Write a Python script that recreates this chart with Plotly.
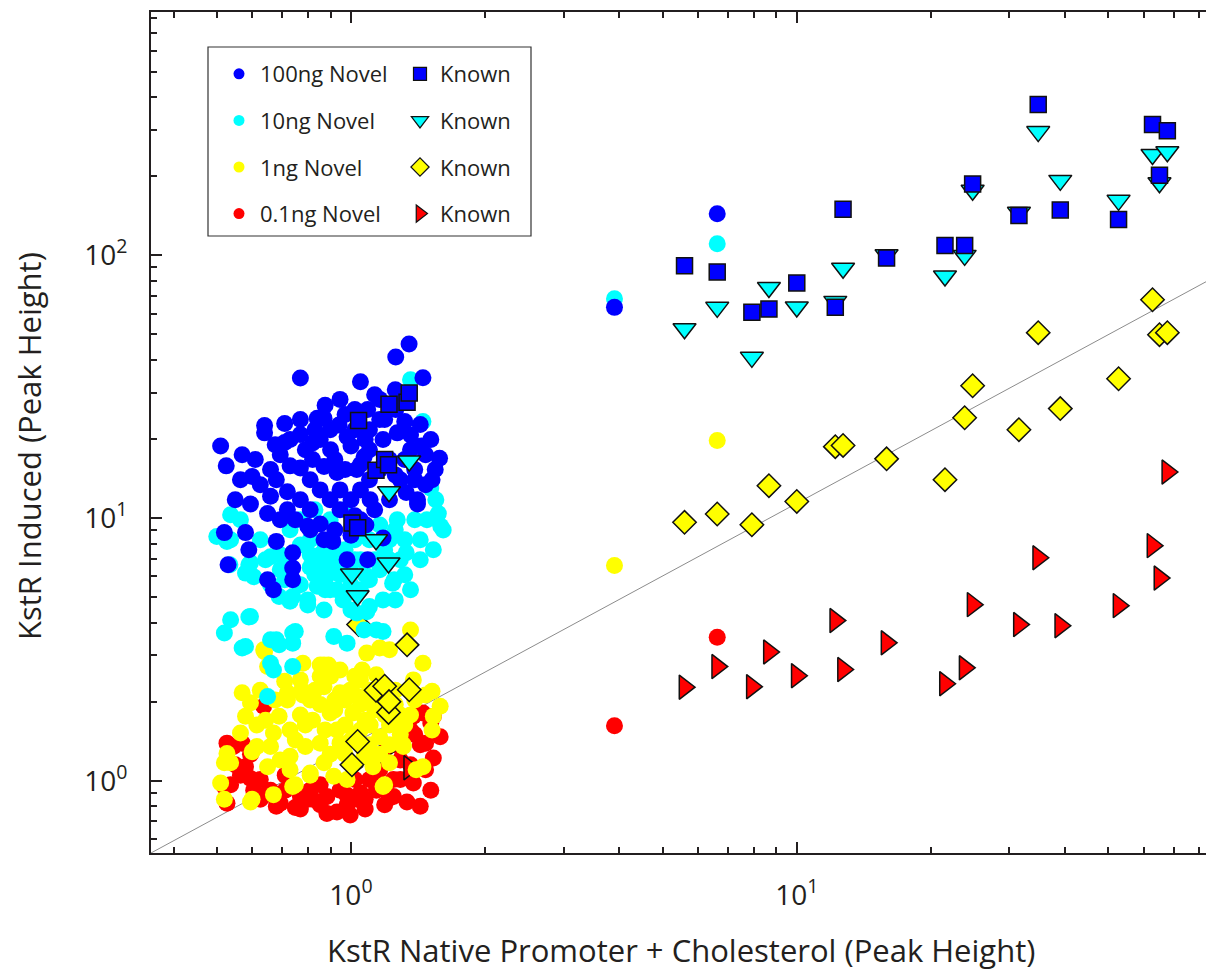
import plotly.graph_objects as go

# ---------------- data ----------------
known_x = [1.005, 1.035, 1.040, 1.138, 1.190, 1.214, 1.217, 1.336, 1.351,
           5.60, 6.63, 7.93, 8.66, 10.0, 12.2, 12.7, 15.9, 21.5, 23.8, 24.8,
           31.5, 34.8, 39.0, 52.7, 62.8, 65.1, 67.8]
known_100ng = [9.58, 9.19, 23.5, 15.2, 16.7, 15.96, 27.1, 27.6, 29.9,
               91.4, 86.5, 60.7, 62.5, 78.5, 63.4, 150, 97.7, 109, 109, 187,
               142, 375, 149, 137, 315, 202, 298]
known_10ng = [6.12, 5.06, None, 8.27, None, 6.74, 12.6, None, 16.5,
              52.6, 63.4, 40.9, 75.5, 63.6, 66.8, 89.4, 100.6, 83.5, 100, 177,
              146, 296, 193, 162, 242, 189, 248]
known_1ng = [1.15, 1.41, 3.93, 2.21, 2.29, 1.82, 2.00, 3.29, 2.22,
             9.63, 10.36, 9.43, 13.28, 11.57, 18.7, 18.9, 16.8, 14.0, 24.1, 31.9,
             21.7, 50.8, 26.1, 33.9, 67.8, 49.9, 50.8]
known_01ng = [1.13, None, None, None, 1.30, None, None, None, 1.12,
              2.27, 2.72, 2.28, 3.09, 2.51, 4.07, 2.65, 3.35, 2.34, 2.69, 4.68,
              3.93, 7.06, 3.89, 4.64, 7.85, 5.91, 14.97]

novel_100ng_x = [0.77, 1.05, 1.26, 1.35, 1.45, 0.51, 0.525, 0.57, 0.61, 0.64, 0.64, 0.71,
                 0.77, 0.71, 0.84, 0.87, 0.94, 0.98, 1.09, 1.16, 1.32, 1.36, 1.44, 1.58,
                 1.52, 0.60, 0.68, 0.77, 0.82, 0.82, 0.90, 1.0, 1.07, 0.87, 0.93, 1.03,
                 1.18, 1.27, 1.33, 1.41, 0.72, 0.66, 0.52, 0.53, 0.58, 0.59, 0.65, 0.67,
                 0.74, 0.74, 0.74, 0.68, 0.80, 0.87, 0.91, 0.98, 1.09, 1.18, 1.41, 0.595,
                 0.65, 0.72, 0.81, 0.853, 0.898, 0.945, 1.0, 1.05, 1.10, 1.16, 1.22, 1.10,
                 1.02, 1.10, 1.19, 1.26, 0.945, 1.02, 1.08, 1.13, 1.22, 1.29, 1.32, 1.39,
                 1.47, 0.77, 0.81, 0.853, 0.75, 0.92, 1.0, 0.92, 0.853, 0.79, 0.73, 0.694,
                 0.97, 1.05, 1.257, 1.32, 1.16, 1.076, 0.97, 0.898, 1.36, 1.47, 1.545,
                 0.875, 0.945, 1.02, 1.13, 0.83, 0.77, 0.73, 0.676, 0.66, 0.626, 0.565,
                 0.55, 0.694, 0.81, 1.05, 1.104, 1.257, 1.39, 1.51, 1.43,
                 3.90, 6.63]
novel_100ng_y = [34.1, 33.0, 41.0, 46.0, 34.2, 18.8, 15.8, 17.4, 16.7, 22.5, 21.1, 22.9,
                 20.8, 19.4, 24.0, 24.0, 22.6, 20.4, 25.9, 28.3, 23.3, 20.7, 18.8, 16.9,
                 14.0, 14.4, 14.0, 15.5, 16.7, 19.3, 18.2, 18.8, 17.1, 15.7, 14.9, 15.3,
                 19.9, 21.1, 12.5, 11.75, 12.6, 12.1, 8.8, 6.64, 8.8, 7.57, 5.82, 5.33,
                 5.82, 6.45, 7.37, 8.15, 9.3, 8.26, 8.15, 6.94, 6.94, 8.4, 11.3, 11.3,
                 10.4, 10.75, 14.0, 12.8, 11.75, 12.8, 11.75, 12.8, 14.0, 15.3, 16.7, 18.2,
                 21.7, 21.7, 23.7, 25.9, 10.75, 10.2, 9.4, 10.75, 11.75, 14.0, 16.7, 15.3,
                 17.4, 11.75, 10.75, 9.5, 9.85, 9.0, 8.6, 16.7, 19.9, 18.2, 15.8, 17.4,
                 15.3, 16.0, 30.8, 28.3, 23.7, 19.9, 24.8, 21.7, 18.2, 13.4, 15.3,
                 26.9, 28.3, 25.9, 29.5, 21.7, 23.7, 19.9, 19.0, 15.3, 13.4, 14.0,
                 11.75, 9.85, 9.02, 9.85, 11.75, 14.6, 14.0, 19.9, 22.7,
                 63.4, 144.1]

novel_10ng_x = [0.537, 0.50, 0.527, 0.595, 0.605, 0.66, 0.73, 0.74, 0.80, 0.87, 0.96, 1.03,
                1.10, 1.18, 1.25, 1.33, 1.43, 1.53, 1.48, 1.59, 1.27, 0.84, 0.81, 0.88,
                0.93, 0.537, 0.52, 0.595, 0.58, 0.66, 0.68, 0.74, 0.74, 0.66, 0.67, 0.74,
                0.915, 0.98, 1.07, 1.14, 1.18, 0.65, 0.59, 0.57, 0.69, 0.75, 0.535, 0.59,
                0.69, 0.73, 0.80, 1.0, 1.085, 1.24, 0.58, 1.45, 1.36, 1.57, 1.61, 1.55,
                1.51, 0.77, 0.81, 0.853, 0.898, 0.945, 1.0, 1.05, 1.10, 1.16, 1.22, 1.05,
                0.97, 0.92, 0.875, 1.02, 1.10, 1.16, 1.22, 1.29, 0.77, 0.83, 0.875, 0.71,
                0.66, 0.626, 0.694, 0.77, 0.83, 0.898, 0.97, 1.32, 1.36, 1.43, 1.257,
                0.81, 0.853, 0.945, 0.996, 1.076, 1.13, 0.898, 0.97, 1.02, 1.19, 1.257,
                1.32, 0.73, 0.694, 0.643, 0.565, 0.537, 1.39,
                3.90, 6.63]
novel_10ng_y = [10.3, 8.5, 8.15, 6.75, 5.98, 7.12, 6.5, 5.03, 4.88, 4.47, 4.88, 4.35,
                4.6, 4.88, 5.82, 7.37, 8.26, 7.57, 9.85, 9.3, 9.85, 5.5, 6.5, 5.98,
                5.33, 4.10, 3.65, 4.22, 3.24, 3.44, 3.44, 3.65, 3.34, 2.8, 2.64, 2.72,
                3.54, 3.34, 3.75, 3.75, 3.70, 2.09, 4.2, 3.2, 3.29, 3.70, 6.64, 6.64,
                5.03, 4.82, 4.67, 4.47, 4.4, 5.65, 6.17, 23.3, 33.6, 10.4, 9.0, 11.75,
                13.0, 9.85, 8.26, 7.25, 6.64, 6.08, 5.57, 5.33, 5.82, 6.35, 6.94, 6.94,
                7.57, 7.25, 7.9, 8.26, 8.26, 9.4, 8.26, 6.94, 5.57, 6.08, 5.33, 5.82,
                5.57, 8.26, 7.25, 7.9, 10.75, 9.85, 10.75, 6.08, 5.33, 6.94, 4.88,
                7.25, 6.35, 6.94, 6.35, 6.08, 6.94, 5.33, 5.1, 6.94, 7.57, 9.02,
                8.26, 9.02, 6.35, 6.94, 9.85, 8.26, 9.85,
                68.4, 110.8]

novel_1ng_x = [0.637, 0.65, 0.57, 0.58, 0.595, 0.527, 0.51, 0.52, 0.595, 0.67, 0.74, 0.72,
               0.78, 0.87, 0.90, 1.085, 1.16, 1.22, 1.36, 1.45, 1.585, 1.53, 1.52, 1.45,
               1.31, 1.22, 1.07, 0.915, 0.81, 0.73, 0.65, 0.615, 0.67, 0.565, 0.52, 1.18,
               0.615, 0.537, 0.60, 0.60, 0.75, 0.66, 0.73, 0.81, 0.98, 1.19, 1.12, 1.40,
               1.31, 1.47, 1.27, 1.085, 0.87, 0.79, 0.73, 0.69, 0.72, 0.78, 0.87, 0.945,
               1.07, 1.01, 0.898, 0.82, 0.93, 1.05, 1.16, 0.853, 0.945, 0.64, 0.853, 0.89,
               1.06, 1.14, 0.71, 0.775, 0.853, 1.02, 1.38, 1.52, 0.97, 1.02, 1.10, 1.19,
               1.257, 1.13, 1.076, 0.97, 0.92, 0.853, 0.81, 0.77, 1.22, 1.29, 1.36, 1.39,
               1.0, 1.10, 1.22, 0.898,
               0.83, 0.92, 0.996, 1.05, 1.16, 1.257, 1.104, 1.02, 0.875, 0.79, 0.75, 1.19,
               1.32, 0.97, 1.16, 1.29, 1.05, 0.945, 0.77, 0.676, 0.643, 0.626, 0.694,
               3.90, 6.63]
novel_1ng_y = [3.15, 2.72, 2.16, 1.76, 1.98, 1.27, 0.98, 0.85, 0.83, 0.885, 0.95, 2.16,
               2.80, 2.76, 2.50, 3.06, 3.2, 3.15, 3.75, 2.80, 1.92, 1.76, 1.56, 1.13,
               1.35, 1.17, 1.24, 1.04, 1.07, 1.10, 1.13, 1.35, 1.52, 1.52, 1.17, 0.95,
               1.63, 1.17, 1.29, 0.85, 0.965, 1.35, 1.24, 1.05, 1.01, 0.965, 1.13, 1.10,
               1.37, 2.12, 1.76, 1.24, 1.17, 1.35, 1.56, 1.76, 2.03, 2.12, 2.28, 2.16,
               2.03, 1.81, 1.81, 1.70, 1.56, 1.56, 1.47, 1.39, 1.39, 3.10, 2.76, 2.76,
               2.64, 2.53, 2.39, 2.21, 2.50, 2.50, 2.42, 2.19, 2.03, 2.12, 2.21, 2.03,
               2.21, 1.86, 1.70, 1.63, 1.86, 1.95, 2.03, 1.78, 1.63, 1.50, 1.78, 2.03,
               1.43, 1.37, 1.37, 1.26,
               2.21, 2.03, 2.21, 1.95, 2.03, 1.95, 1.63, 1.50, 1.56, 1.63, 1.43, 1.78,
               1.63, 1.26, 1.26, 1.78, 2.42, 2.64, 2.42, 2.03, 1.70, 2.21, 1.20,
               6.59, 19.75]

novel_01ng_x = [0.545, 0.57, 0.595, 0.58, 0.595, 0.537, 0.527, 0.605, 0.66, 0.694, 0.75, 0.77,
                0.82, 0.883, 0.93, 0.98, 1.05, 1.14, 1.245, 1.335, 1.43, 1.38, 1.53, 1.585,
                1.47, 1.36, 1.38, 1.53, 1.45, 0.98, 0.883, 1.10, 1.245, 0.637, 0.527, 0.52,
                0.68, 0.80, 1.03, 1.22, 1.51, 0.626, 0.712, 0.853, 0.945, 1.02, 1.16, 1.29,
                1.29, 1.36, 0.712, 0.643, 0.81, 1.076, 1.16, 1.43, 1.39, 1.29,
                0.77, 0.853, 0.996, 1.076, 1.19, 0.626, 0.565, 0.55, 1.47, 1.51,
                3.90, 6.63]
novel_01ng_y = [1.35, 1.39, 1.26, 1.13, 1.02, 0.965, 0.82, 0.92, 0.92, 0.82, 0.79, 0.87,
                0.85, 0.75, 0.76, 0.81, 0.90, 0.92, 0.87, 0.83, 0.80, 0.98, 1.22, 1.47,
                1.39, 1.56, 1.76, 1.76, 1.81, 0.88, 0.87, 1.01, 1.01, 1.92, 1.39, 0.95,
                0.80, 0.85, 0.85, 0.86, 1.66, 1.01, 1.05, 0.965, 0.92, 1.01, 1.10, 1.20,
                1.01, 1.15, 0.92, 0.885, 0.92, 0.85, 0.965, 1.37, 1.50, 1.34,
                0.78, 0.81, 0.74, 0.78, 0.81, 0.85, 1.05, 1.15, 1.10, 0.92,
                1.62, 3.52]

# fitted reference line (power law)
fit_x = [0.356, 83.0]
fit_coef = 1.371
fit_exp = 0.919

series_names = ["100ng Novel", "10ng Novel", "1ng Novel", "0.1ng Novel"]
known_label = "Known"

# ---------------- style ----------------
BLUE, CYAN, YELLOW, RED = "#0000FF", "#00FFFF", "#FFFF00", "#FF0000"
INK = "#231F20"
FONT = "Open Sans"

fig = go.Figure()

fig.add_trace(go.Scatter(x=fit_x, y=[fit_coef * v ** fit_exp for v in fit_x], mode="lines",
                         line=dict(color="#8c8c8c", width=1), showlegend=False, hoverinfo="skip"))

def novel(x, y, color):
    fig.add_trace(go.Scatter(x=x, y=y, mode="markers", showlegend=False,
                             marker=dict(symbol="circle", size=17, color=color, line=dict(width=0))))

def known(y, color, symbol, size):
    fig.add_trace(go.Scatter(x=known_x, y=y, mode="markers", showlegend=False,
                             marker=dict(symbol=symbol, size=size, color=color,
                                         line=dict(color="#111111", width=1.5))))

novel(novel_01ng_x, novel_01ng_y, RED)
known(known_01ng, RED, "triangle-right", 21)
novel(novel_1ng_x, novel_1ng_y, YELLOW)
known(known_1ng, YELLOW, "diamond", 18)
novel(novel_10ng_x, novel_10ng_y, CYAN)
novel(novel_100ng_x, novel_100ng_y, BLUE)
known(known_10ng, CYAN, "triangle-down", 20)
known(known_100ng, BLUE, "square", 16)

# legend entries
for i, (name, color) in enumerate(zip(series_names, [BLUE, CYAN, YELLOW, RED])):
    fig.add_trace(go.Scatter(x=[None], y=[None], mode="markers", name=name, legend="legend",
                             legendgroup="n%d" % i,
                             marker=dict(symbol="circle", size=11, color=color, line=dict(width=0))))
for i, (color, sym, sz) in enumerate(zip([BLUE, CYAN, YELLOW, RED],
                                         ["square", "triangle-down", "diamond", "triangle-right"],
                                         [13, 15, 14, 15])):
    fig.add_trace(go.Scatter(x=[None], y=[None], mode="markers", name=known_label, legend="legend2",
                             legendgroup="k%d" % i,
                             marker=dict(symbol=sym, size=sz, color=color,
                                         line=dict(color="#111111", width=1.2))))

W, H = 1206, 974
L, R, T, B = 151, 0, 12, 121
pw, ph = W - L - R, H - T - B

def px2paper_x(px):
    return (px - L) / pw

def px2paper_y(py):
    return (H - B - py) / ph

legend_common = dict(bgcolor="rgba(0,0,0,0)", borderwidth=0, font=dict(family=FONT, size=22, color=INK),
                     tracegroupgap=15, traceorder="grouped",
                     xanchor="left", yanchor="top", itemclick=False, itemdoubleclick=False)

minor_x = [0.4, 0.5, 0.6, 0.7, 0.8, 0.9, 2, 3, 4, 5, 6, 7, 8, 9, 20, 30, 40, 50, 60, 70, 80]
minor_y = [0.6, 0.7, 0.8, 0.9, 2, 3, 4, 5, 6, 7, 8, 9, 20, 30, 40, 50, 60, 70, 80, 90,
           200, 300, 400, 500, 600, 700, 800]

fig.update_layout(
    width=W, height=H,
    margin=dict(l=L, r=R, t=T, b=B),
    paper_bgcolor="white", plot_bgcolor="white",
    font=dict(family=FONT, color=INK),
    showlegend=True,
    legend=dict(x=px2paper_x(218), y=px2paper_y(53), itemwidth=32, **legend_common),
    legend2=dict(x=px2paper_x(400), y=px2paper_y(53), itemwidth=30, **legend_common),
    xaxis=dict(type="log", range=[-0.4486, -0.4486 + pw / 445.8],
               showgrid=False, zeroline=False,
               showline=True, linecolor=INK, linewidth=2, mirror="allticks",
               ticks="inside", ticklen=11, tickwidth=1.5, tickcolor=INK,
               tickmode="array", tickvals=[1, 10],
               ticktext=["10<sup>0</sup>", "10<sup>1</sup>"],
               tickfont=dict(family=FONT, size=28, color=INK), ticklabelstandoff=16,
               minor=dict(tickmode="array", tickvals=minor_x, ticks="inside", ticklen=6,
                          tickwidth=1.5, tickcolor=INK, showgrid=False)),
    yaxis=dict(type="log", range=[-0.2753, -0.2753 + ph / 262.65],
               showgrid=False, zeroline=False,
               showline=True, linecolor=INK, linewidth=2, mirror=False,
               ticks="inside", ticklen=11, tickwidth=1.5, tickcolor=INK,
               tickmode="array", tickvals=[1, 10, 100],
               ticktext=["10<sup>0</sup>", "10<sup>1</sup>", "10<sup>2</sup>"],
               tickfont=dict(family=FONT, size=28, color=INK), ticklabelstandoff=16,
               minor=dict(tickmode="array", tickvals=minor_y, ticks="inside", ticklen=6,
                          tickwidth=1.5, tickcolor=INK, showgrid=False)),
    shapes=[dict(type="rect", xref="paper", yref="paper",
                 x0=px2paper_x(208), x1=px2paper_x(531), y0=px2paper_y(236), y1=px2paper_y(47),
                 line=dict(color="#333333", width=1.2), fillcolor="rgba(0,0,0,0)", layer="above")],
    annotations=[
        dict(text="KstR Native Promoter + Cholesterol (Peak Height)", xref="paper", yref="paper",
             x=px2paper_x(681), y=px2paper_y(950), xanchor="center", yanchor="middle",
             showarrow=False, font=dict(family=FONT, size=31, color=INK)),
        dict(text="KstR Induced (Peak Height)", xref="paper", yref="paper",
             x=px2paper_x(29), y=px2paper_y(446), xanchor="center", yanchor="middle",
             textangle=-90, showarrow=False, font=dict(family=FONT, size=31, color=INK)),
    ],
)

fig.write_html("out.html")
